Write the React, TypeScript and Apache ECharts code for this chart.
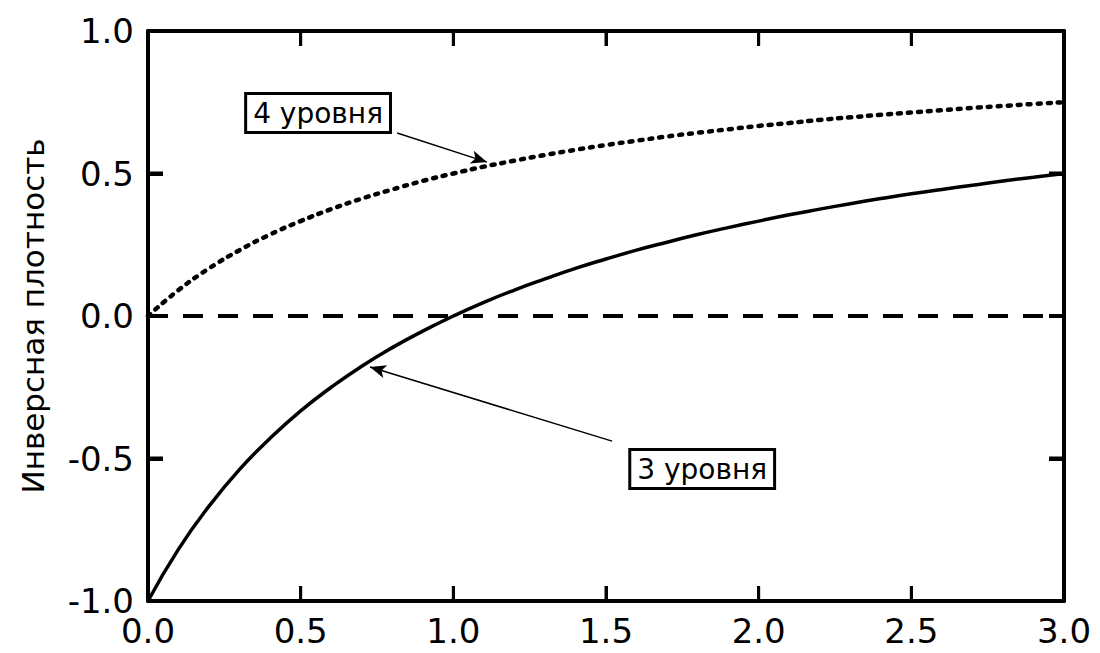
import React, { useEffect, useRef } from "react";
import * as echarts from "echarts";

const xValues = [0, 0.1, 0.2, 0.3, 0.4, 0.5, 0.6, 0.7, 0.8, 0.9, 1.0, 1.1, 1.2, 1.3, 1.4, 1.5, 1.6, 1.7, 1.8, 1.9, 2.0, 2.1, 2.2, 2.3, 2.4, 2.5, 2.6, 2.7, 2.8, 2.9, 3.0];
const level3 = [-1, -0.818, -0.667, -0.538, -0.429, -0.333, -0.25, -0.176, -0.111, -0.053, 0, 0.048, 0.091, 0.13, 0.167, 0.2, 0.231, 0.259, 0.286, 0.31, 0.333, 0.355, 0.375, 0.394, 0.412, 0.429, 0.444, 0.459, 0.474, 0.487, 0.5];
const level4 = [0, 0.091, 0.167, 0.231, 0.286, 0.333, 0.375, 0.412, 0.444, 0.474, 0.5, 0.524, 0.545, 0.565, 0.583, 0.6, 0.615, 0.63, 0.643, 0.655, 0.667, 0.677, 0.688, 0.697, 0.706, 0.714, 0.722, 0.73, 0.737, 0.744, 0.75];
const zeroLine = [[0, 0], [3, 0]];

const xTicks = [0.5, 1.0, 1.5, 2.0, 2.5];
const yTicks = [-0.5, 0, 0.5];

const label4 = { text: "4 уровня", box: [0.557, 0.712], from: [0.816, 0.642], to: [1.11, 0.54] };
const label3 = { text: "3 уровня", box: [1.815, -0.537], from: [1.52, -0.439], to: [0.727, -0.179] };

const yAxisName = "Инверсная плотность";
const FONT = "DejaVu Sans, Liberation Sans, Arial, sans-serif";

export default function App() {
  const ref = useRef<HTMLDivElement>(null);
  useEffect(() => {
    if (!ref.current) return;
    const chart = echarts.init(ref.current, undefined, { renderer: "svg" });
    const axisLine = () => ({ show: true, onZero: false, lineStyle: { color: "#000", width: 4 } });
    const axisTick = (w: number) => ({ show: true, inside: true, length: 15, lineStyle: { color: "#000", width: w } });
    const labelStyle = (margin: number) => ({
      color: "#000", fontSize: 34, fontFamily: FONT, margin,
      formatter: (v: number) => v.toFixed(1),
    });
    const boxLabel = (text: string) => ({
      show: true,
      formatter: text,
      color: "#000",
      fontSize: 28,
      fontFamily: FONT,
      backgroundColor: "#fff",
      borderColor: "#000",
      borderWidth: 3,
      padding: [5, 6, 3, 6],
      position: "inside",
    });
    const arrow = (a: any) => [
      { coord: a.from, symbol: "none" },
      { coord: a.to, symbol: "arrow", symbolSize: [10, 16] },
    ];
    chart.setOption({
      animation: false,
      grid: { left: 148, right: 36, top: 31, bottom: 52 },
      xAxis: [
        {
          type: "value", min: 0, max: 3, interval: 0.5, position: "bottom",
          axisLine: axisLine(), axisTick: axisTick(3), splitLine: { show: false },
          axisLabel: labelStyle(13),
        },
        {
          type: "value", min: 0, max: 3, interval: 0.5, position: "top",
          axisLine: axisLine(), axisTick: axisTick(3), splitLine: { show: false }, axisLabel: { show: false },
        },
      ],
      yAxis: [
        {
          type: "value", min: -1, max: 1, interval: 0.5, position: "left",
          axisLine: axisLine(), axisTick: axisTick(4), splitLine: { show: false },
          axisLabel: labelStyle(14),
          name: yAxisName, nameLocation: "middle", nameGap: 100, nameRotate: 90,
          nameTextStyle: { color: "#000", fontSize: 31, fontFamily: FONT },
        },
        {
          type: "value", min: -1, max: 1, interval: 0.5, position: "right",
          axisLine: axisLine(), axisTick: axisTick(4), splitLine: { show: false }, axisLabel: { show: false },
        },
      ],
      series: [
        {
          type: "line", data: zeroLine, symbol: "none", silent: true,
          lineStyle: { color: "#000", width: 4, type: [20, 15] },
          z: 1,
        },
        {
          name: "3 уровня", type: "line", smooth: true, symbol: "none",
          data: xValues.map((x, i) => [x, level3[i]]),
          lineStyle: { color: "#000", width: 3.5 },
          markLine: {
            silent: true, animation: false, label: { show: false },
            lineStyle: { color: "#000", width: 1.5, type: "solid" },
            data: [arrow(label3)],
          },
          markPoint: {
            silent: true, symbol: "rect", symbolSize: 1, itemStyle: { color: "transparent" },
            data: [{ coord: label3.box, label: boxLabel(label3.text) }],
          },
        },
        {
          name: "4 уровня", type: "line", smooth: true, symbol: "none",
          data: xValues.map((x, i) => [x, level4[i]]),
          lineStyle: { color: "#000", width: 4.5, type: [3, 7], cap: "round" },
          markLine: {
            silent: true, animation: false, label: { show: false },
            lineStyle: { color: "#000", width: 1.5, type: "solid" },
            data: [arrow(label4)],
          },
          markPoint: {
            silent: true, symbol: "rect", symbolSize: 1, itemStyle: { color: "transparent" },
            data: [{ coord: label4.box, label: boxLabel(label4.text) }],
          },
        },
      ],
    });

    // Inward tick marks on all four frame sides, placed through the axes' own scale.
    const TL = 15;
    const toPx = (p: number[]) => chart.convertToPixel({ xAxisIndex: 0, yAxisIndex: 0 }, p) as number[];
    const line = (x1: number, y1: number, x2: number, y2: number, w: number) => ({
      type: "line", silent: true, z: 100,
      shape: { x1, y1, x2, y2 },
      style: { stroke: "#000", lineWidth: w },
    });
    const tickEls: any[] = [];
    xTicks.forEach((v) => {
      const b = toPx([v, -1]);
      const t = toPx([v, 1]);
      tickEls.push(line(b[0], b[1], b[0], b[1] - TL, 3));
      tickEls.push(line(t[0], t[1], t[0], t[1] + TL, 3));
    });
    yTicks.forEach((v) => {
      const l = toPx([0, v]);
      const r = toPx([3, v]);
      tickEls.push(line(l[0], l[1], l[0] + TL, l[1], 4));
      tickEls.push(line(r[0], r[1], r[0] - TL, r[1], 4));
    });
    chart.setOption({ graphic: tickEls });

    return () => chart.dispose();
  }, []);
  return <div ref={ref} style={{ position: "fixed", left: 0, top: 0, width: 1100, height: 653, background: "#fff" }} />;
}
